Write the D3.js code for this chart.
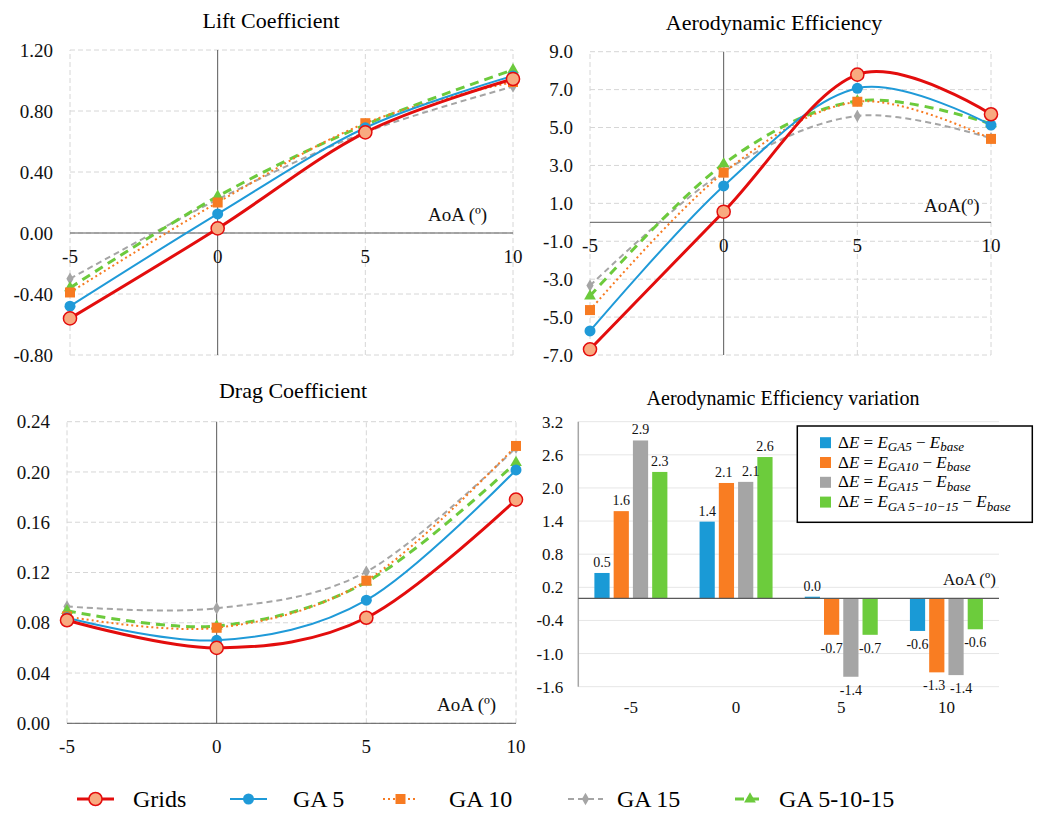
<!DOCTYPE html>
<html lang="en">
<head>
<meta charset="utf-8" />
<script src="https://d3js.org/d3.v7.min.js"></script>
<style>
  body { margin: 0; background: #fff; }
  svg { display: block; font-family: "Liberation Serif", "Times New Roman", serif; }
</style>
</head>
<body>
<svg id="chart" width="1040" height="814"></svg>
<script>
// ---- data ----
const aoa = [-5, 0, 5, 10];
const seriesNames = ["Grids", "GA 5", "GA 10", "GA 15", "GA 5-10-15"];
// rows follow seriesNames order, columns follow aoa
const liftValues = [
  [-0.56, 0.03, 0.66, 1.01],
  [-0.48, 0.125, 0.69, 1.03],
  [-0.39, 0.20, 0.72, 0.99],
  [-0.30, 0.22, 0.66, 0.96],
  [-0.36, 0.24, 0.71, 1.07]
];
const effValues = [
  [-6.7, 0.56, 7.79, 5.7],
  [-5.73, 1.92, 7.07, 5.13],
  [-4.63, 2.62, 6.36, 4.4],
  [-3.34, 2.67, 5.61, 4.43],
  [-3.89, 3.08, 6.4, 5.19]
];
const dragValues = [
  [0.082, 0.060, 0.084, 0.178],
  [0.084, 0.066, 0.098, 0.2016],
  [0.085, 0.076, 0.1135, 0.2207],
  [0.093, 0.0915, 0.1206, 0.2193],
  [0.0896, 0.0774, 0.1124, 0.2074]
];
const deltaSubs = ["GA5", "GA10", "GA15", "GA 5\u221210\u221215"];
// rows follow aoa, columns follow deltaSubs
const deltaValues = [
  [0.46, 1.58, 2.86, 2.29],
  [1.39, 2.09, 2.11, 2.56],
  [0.03, -0.66, -1.42, -0.66],
  [-0.59, -1.34, -1.39, -0.56]
];

// ---- styles ----
const colors = ["#e30d0d", "#1f9ad8", "#f77b22", "#a5a5a5", "#6cca3c"];
const widths = [3, 2, 2, 2, 3];
const dashes = [null, null, "2,3", "6,4", "9,6"];
const symbols = [d3.symbolCircle, d3.symbolCircle, d3.symbolSquare, d3.symbolDiamond, d3.symbolTriangle];
const symSizes = [135, 95, 100, 45, 60];
const barColors = ["#1a9ad6", "#f97d22", "#a5a5a5", "#6ccc3c"];

const svg = d3.select("#chart");
const fmt = (v, d) => v.toFixed(d);

function marker(g, i, x, y) {
  g.append("path")
    .attr("transform", "translate(" + x + "," + y + ")")
    .attr("d", d3.symbol().type(symbols[i]).size(symSizes[i])())
    .attr("fill", i === 0 ? "#f8aa80" : colors[i])
    .attr("stroke", i === 0 ? colors[0] : "none")
    .attr("stroke-width", 1.5);
}

function drawLinePanel(cfg) {
  let g = svg.append("g");
  let x = d3.scaleLinear([-5, 10], cfg.xr);
  let y = d3.scaleLinear(cfg.yd, cfg.yr);
  let ticks = d3.range(cfg.nTicks).map(i => cfg.yd[0] + i * cfg.step);

  // grid
  g.selectAll(".hg").data(ticks).enter().append("line")
    .attr("x1", cfg.xr[0]).attr("x2", cfg.xr[1])
    .attr("y1", d => y(d)).attr("y2", d => y(d))
    .attr("stroke", "#d6d6d6").attr("stroke-dasharray", "5,3");
  g.selectAll(".vg").data([-5, 5, 10]).enter().append("line")
    .attr("x1", d => x(d)).attr("x2", d => x(d))
    .attr("y1", cfg.yr[0]).attr("y2", cfg.yr[1])
    .attr("stroke", "#d6d6d6").attr("stroke-dasharray", "5,3");
  // axes through zero
  g.append("line").attr("x1", cfg.xr[0]).attr("x2", cfg.xr[1])
    .attr("y1", y(0)).attr("y2", y(0)).attr("stroke", "#595959");
  g.append("line").attr("x1", x(0)).attr("x2", x(0))
    .attr("y1", cfg.yr[0]).attr("y2", cfg.yr[1]).attr("stroke", "#595959");

  g.selectAll(".yl").data(ticks).enter().append("text")
    .attr("x", cfg.xr[0] - 17).attr("y", d => y(d)).attr("dy", "0.35em")
    .attr("text-anchor", "end").attr("font-size", 19).attr("fill", "#111")
    .text(d => fmt(d, cfg.dec));
  g.selectAll(".xl").data(aoa).enter().append("text")
    .attr("x", d => x(d)).attr("y", cfg.xLabelY)
    .attr("text-anchor", "middle").attr("font-size", 19).attr("fill", "#111")
    .text(d => d);
  g.append("text").attr("x", cfg.aoaPos[0]).attr("y", cfg.aoaPos[1])
    .attr("font-size", 19).attr("fill", "#111").text(cfg.aoaText);
  g.append("text").attr("x", cfg.titlePos[0]).attr("y", cfg.titlePos[1])
    .attr("text-anchor", "middle").attr("font-size", 22).attr("fill", "#000")
    .text(cfg.title);

  let line = d3.line().x((d, j) => x(aoa[j])).y(d => y(d)).curve(d3.curveCardinal.tension(0));
  let order = [3, 4, 2, 1, 0];
  order.forEach(i => {
    g.append("path").attr("d", line(cfg.values[i]))
      .attr("fill", "none").attr("stroke", colors[i])
      .attr("stroke-width", widths[i])
      .attr("stroke-dasharray", dashes[i]);
  });
  order.forEach(i => {
    cfg.values[i].forEach((v, j) => marker(g, i, x(aoa[j]), y(v)));
  });
}

drawLinePanel({
  values: liftValues, xr: [70, 513], yd: [-0.8, 1.2], yr: [355, 50],
  nTicks: 6, step: 0.4, dec: 2, xLabelY: 263,
  aoaPos: [428, 221], aoaText: "AoA (\u00ba)",
  title: "Lift Coefficient", titlePos: [271, 28]
});
drawLinePanel({
  values: effValues, xr: [590, 991], yd: [-7, 9], yr: [355, 51.7],
  nTicks: 9, step: 2, dec: 1, xLabelY: 252,
  aoaPos: [924, 212], aoaText: "AoA(\u00ba)",
  title: "Aerodynamic Efficiency", titlePos: [774, 30]
});
drawLinePanel({
  values: dragValues, xr: [67, 516], yd: [0, 0.24], yr: [723.3, 421.7],
  nTicks: 7, step: 0.04, dec: 2, xLabelY: 753,
  aoaPos: [437, 711], aoaText: "AoA (\u00ba)",
  title: "Drag Coefficient", titlePos: [293, 398]
});

// ---- bar panel ----
(function () {
  let g = svg.append("g");
  let xr = [578.3, 999];
  let y = d3.scaleLinear([-1.6, 3.2], [686.7, 421.7]);
  let ticks = d3.range(9).map(i => -1.6 + i * 0.6);
  let x0 = d3.scaleBand().domain(aoa).range(xr);
  let x1 = d3.scaleBand().domain(d3.range(4)).range([-36.5, 36.5]).paddingInner(0.21);

  g.selectAll(".hg").data(ticks).enter().append("line")
    .attr("x1", xr[0]).attr("x2", xr[1])
    .attr("y1", d => y(d)).attr("y2", d => y(d))
    .attr("stroke", "#e6e6e6");
  g.append("line").attr("x1", xr[0]).attr("x2", xr[0])
    .attr("y1", y(-1.6)).attr("y2", y(3.2)).attr("stroke", "#a6a6a6").attr("stroke-width", 1.5);
  g.selectAll(".yl").data(ticks).enter().append("text")
    .attr("x", xr[0] - 15).attr("y", d => y(d)).attr("dy", "0.35em")
    .attr("text-anchor", "end").attr("font-size", 17).attr("fill", "#111")
    .text(d => fmt(d, 1));
  g.selectAll(".xl").data(aoa).enter().append("text")
    .attr("x", d => x0(d) + x0.bandwidth() / 2).attr("y", 713)
    .attr("text-anchor", "middle").attr("font-size", 17).attr("fill", "#111")
    .text(d => d);

  deltaValues.forEach((row, gi) => {
    let cx = x0(aoa[gi]) + x0.bandwidth() / 2;
    let labels = row.map((v, k) => ({
      v: v,
      x: cx + x1(k) + x1.bandwidth() / 2,
      y: v >= 0 ? y(v) - 6 : y(v) + 18
    }));
    row.forEach((v, k) => {
      g.append("rect").attr("x", cx + x1(k)).attr("width", x1.bandwidth())
        .attr("y", y(Math.max(0, v))).attr("height", Math.abs(y(v) - y(0)))
        .attr("fill", barColors[k]);
    });
    // push apart neighbouring labels that sit on the same level
    for (let k = 0; k < labels.length - 1; k++) {
      let a = labels[k], b = labels[k + 1];
      let need = 27 - (b.x - a.x);
      if (Math.abs(a.y - b.y) < 14 && need > 0) {
        a.x -= need * 0.35;
        b.x += need * 0.65;
      }
    }
    labels.forEach(l => {
      g.append("text").attr("x", l.x).attr("y", l.y)
        .attr("text-anchor", "middle").attr("font-size", 14).attr("fill", "#111")
        .text(fmt(l.v, 1));
    });
  });
  g.append("line").attr("x1", xr[0]).attr("x2", xr[1])
    .attr("y1", y(0)).attr("y2", y(0)).attr("stroke", "#595959").attr("stroke-width", 1.2);
  g.append("text").attr("x", 943).attr("y", 585).attr("font-size", 17).attr("fill", "#111")
    .text("AoA (\u00ba)");
  g.append("text").attr("x", 783).attr("y", 405).attr("text-anchor", "middle")
    .attr("font-size", 20).attr("fill", "#000").text("Aerodynamic Efficiency  variation");

  // legend box
  let lg = g.append("g");
  lg.append("rect").attr("x", 797.3).attr("y", 426).attr("width", 235).attr("height", 96.3)
    .attr("fill", "#fff").attr("stroke", "#000").attr("stroke-width", 1.5);
  deltaSubs.forEach((s, k) => {
    let cy = 442.7 + k * 19.8;
    lg.append("rect").attr("x", 820).attr("y", cy - 5.5).attr("width", 11).attr("height", 11)
      .attr("fill", barColors[k]);
    let t = lg.append("text").attr("x", 838).attr("y", cy + 5).attr("font-size", 17).attr("fill", "#000");
    t.append("tspan").text("\u0394");
    t.append("tspan").attr("font-style", "italic").text("E");
    t.append("tspan").text(" = ");
    t.append("tspan").attr("font-style", "italic").text("E");
    t.append("tspan").attr("font-style", "italic").attr("font-size", 13).attr("dy", 3.5).text(s);
    t.append("tspan").attr("dy", -3.5).text(" \u2212 ");
    t.append("tspan").attr("font-style", "italic").text("E");
    t.append("tspan").attr("font-style", "italic").attr("font-size", 13).attr("dy", 3.5).text("base");
  });
})();

// ---- bottom legend ----
const legendX = [[77, 114, 133], [230, 267, 293], [383, 418, 449], [568, 603, 617], [735, 765, 779]];
let leg = svg.append("g");
seriesNames.forEach((name, i) => {
  let p = legendX[i];
  leg.append("line").attr("x1", p[0]).attr("x2", p[1]).attr("y1", 799).attr("y2", 799)
    .attr("stroke", colors[i]).attr("stroke-width", widths[i])
    .attr("stroke-dasharray", dashes[i]);
  marker(leg, i, (p[0] + p[1]) / 2, 799);
  leg.append("text").attr("x", p[2]).attr("y", 807).attr("font-size", 24).attr("fill", "#000")
    .text(name);
});
</script>
</body>
</html>
